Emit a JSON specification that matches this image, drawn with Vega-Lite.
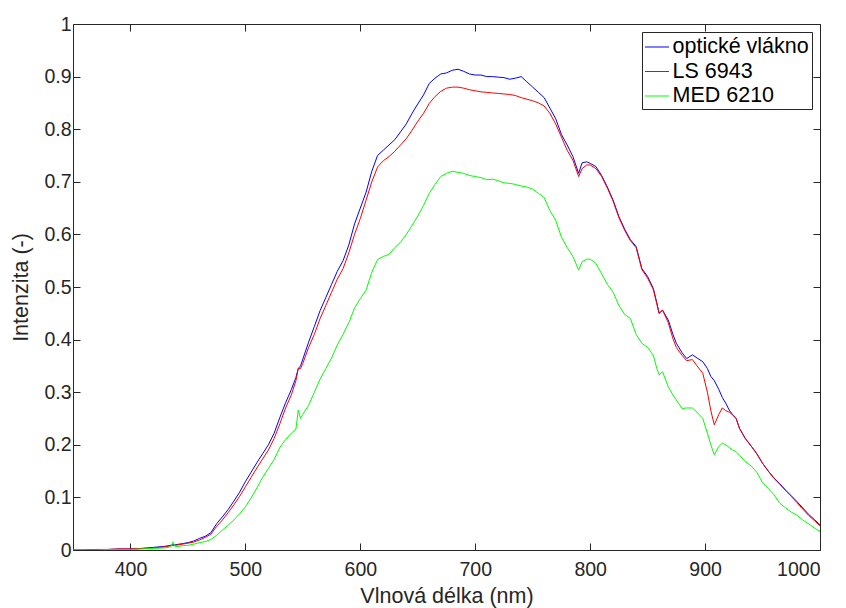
{
  "$schema": "https://vega.github.io/schema/vega-lite/v6.json",
  "width": 747,
  "height": 526,
  "autosize": "none",
  "padding": {"left": 73, "top": 24, "right": 26, "bottom": 58},
  "background": "white",
  "config": {
    "view": {"stroke": null},
    "font": "Liberation Sans",
    "axis": {
      "domainColor": "#262626",
      "tickColor": "#262626",
      "labelColor": "#262626",
      "titleColor": "#262626",
      "labelFont": "Liberation Sans",
      "titleFont": "Liberation Sans",
      "labelFontSize": 19.5,
      "titleFontSize": 21.5,
      "titleFontWeight": "normal",
      "grid": false,
      "tickSize": -7,
      "domainWidth": 1,
      "tickWidth": 1
    }
  },
  "data": {
    "values": [
      {"nm": 350, "optické vlákno": 0, "LS 6943": 0, "MED 6210": 0},
      {"nm": 360, "optické vlákno": 0, "LS 6943": 0, "MED 6210": 0},
      {"nm": 370, "optické vlákno": 0.001, "LS 6943": 0.001, "MED 6210": 0},
      {"nm": 380, "optické vlákno": 0.001, "LS 6943": 0.001, "MED 6210": 0.001},
      {"nm": 390, "optické vlákno": 0.002, "LS 6943": 0.002, "MED 6210": 0.001},
      {"nm": 400, "optické vlákno": 0.002, "LS 6943": 0.002, "MED 6210": 0.001},
      {"nm": 410, "optické vlákno": 0.003, "LS 6943": 0.003, "MED 6210": 0.002},
      {"nm": 420, "optické vlákno": 0.005, "LS 6943": 0.004, "MED 6210": 0.003},
      {"nm": 430, "optické vlákno": 0.007, "LS 6943": 0.006, "MED 6210": 0.004},
      {"nm": 435, "optické vlákno": 0.009, "LS 6943": 0.008, "MED 6210": 0.006},
      {"nm": 437, "optické vlákno": 0.01, "LS 6943": 0.009, "MED 6210": 0.015},
      {"nm": 439, "optické vlákno": 0.01, "LS 6943": 0.009, "MED 6210": 0.006},
      {"nm": 445, "optické vlákno": 0.012, "LS 6943": 0.011, "MED 6210": 0.008},
      {"nm": 450, "optické vlákno": 0.014, "LS 6943": 0.013, "MED 6210": 0.009},
      {"nm": 455, "optické vlákno": 0.017, "LS 6943": 0.015, "MED 6210": 0.011},
      {"nm": 460, "optické vlákno": 0.022, "LS 6943": 0.019, "MED 6210": 0.014},
      {"nm": 465, "optické vlákno": 0.026, "LS 6943": 0.024, "MED 6210": 0.016},
      {"nm": 470, "optické vlákno": 0.033, "LS 6943": 0.03, "MED 6210": 0.02},
      {"nm": 475, "optické vlákno": 0.05, "LS 6943": 0.045, "MED 6210": 0.028},
      {"nm": 480, "optické vlákno": 0.063, "LS 6943": 0.057, "MED 6210": 0.038},
      {"nm": 485, "optické vlákno": 0.077, "LS 6943": 0.071, "MED 6210": 0.047},
      {"nm": 490, "optické vlákno": 0.093, "LS 6943": 0.086, "MED 6210": 0.057},
      {"nm": 495, "optické vlákno": 0.11, "LS 6943": 0.102, "MED 6210": 0.069},
      {"nm": 500, "optické vlákno": 0.13, "LS 6943": 0.12, "MED 6210": 0.082},
      {"nm": 505, "optické vlákno": 0.148, "LS 6943": 0.138, "MED 6210": 0.099},
      {"nm": 510, "optické vlákno": 0.166, "LS 6943": 0.156, "MED 6210": 0.118},
      {"nm": 515, "optické vlákno": 0.183, "LS 6943": 0.173, "MED 6210": 0.138},
      {"nm": 520, "optické vlákno": 0.2, "LS 6943": 0.19, "MED 6210": 0.155},
      {"nm": 525, "optické vlákno": 0.222, "LS 6943": 0.212, "MED 6210": 0.172},
      {"nm": 530, "optické vlákno": 0.252, "LS 6943": 0.24, "MED 6210": 0.195},
      {"nm": 535, "optické vlákno": 0.28, "LS 6943": 0.27, "MED 6210": 0.21},
      {"nm": 540, "optické vlákno": 0.305, "LS 6943": 0.295, "MED 6210": 0.222},
      {"nm": 544, "optické vlákno": 0.328, "LS 6943": 0.322, "MED 6210": 0.23},
      {"nm": 546, "optické vlákno": 0.345, "LS 6943": 0.345, "MED 6210": 0.266},
      {"nm": 548, "optické vlákno": 0.35, "LS 6943": 0.345, "MED 6210": 0.25},
      {"nm": 550, "optické vlákno": 0.363, "LS 6943": 0.355, "MED 6210": 0.258},
      {"nm": 555, "optické vlákno": 0.395, "LS 6943": 0.385, "MED 6210": 0.275},
      {"nm": 560, "optické vlákno": 0.425, "LS 6943": 0.41, "MED 6210": 0.3},
      {"nm": 565, "optické vlákno": 0.455, "LS 6943": 0.44, "MED 6210": 0.325},
      {"nm": 570, "optické vlákno": 0.48, "LS 6943": 0.465, "MED 6210": 0.345},
      {"nm": 575, "optické vlákno": 0.505, "LS 6943": 0.49, "MED 6210": 0.365},
      {"nm": 580, "optické vlákno": 0.53, "LS 6943": 0.515, "MED 6210": 0.39},
      {"nm": 585, "optické vlákno": 0.55, "LS 6943": 0.535, "MED 6210": 0.41},
      {"nm": 590, "optické vlákno": 0.58, "LS 6943": 0.565, "MED 6210": 0.432},
      {"nm": 595, "optické vlákno": 0.62, "LS 6943": 0.6, "MED 6210": 0.46},
      {"nm": 600, "optické vlákno": 0.65, "LS 6943": 0.63, "MED 6210": 0.478},
      {"nm": 605, "optické vlákno": 0.68, "LS 6943": 0.665, "MED 6210": 0.494},
      {"nm": 610, "optické vlákno": 0.72, "LS 6943": 0.7, "MED 6210": 0.528},
      {"nm": 615, "optické vlákno": 0.75, "LS 6943": 0.728, "MED 6210": 0.552},
      {"nm": 620, "optické vlákno": 0.76, "LS 6943": 0.74, "MED 6210": 0.558},
      {"nm": 625, "optické vlákno": 0.77, "LS 6943": 0.748, "MED 6210": 0.562},
      {"nm": 630, "optické vlákno": 0.78, "LS 6943": 0.758, "MED 6210": 0.575},
      {"nm": 635, "optické vlákno": 0.795, "LS 6943": 0.77, "MED 6210": 0.585},
      {"nm": 640, "optické vlákno": 0.81, "LS 6943": 0.782, "MED 6210": 0.6},
      {"nm": 645, "optické vlákno": 0.83, "LS 6943": 0.798, "MED 6210": 0.617},
      {"nm": 650, "optické vlákno": 0.848, "LS 6943": 0.815, "MED 6210": 0.635},
      {"nm": 655, "optické vlákno": 0.865, "LS 6943": 0.83, "MED 6210": 0.655},
      {"nm": 660, "optické vlákno": 0.887, "LS 6943": 0.849, "MED 6210": 0.678},
      {"nm": 665, "optické vlákno": 0.897, "LS 6943": 0.862, "MED 6210": 0.695},
      {"nm": 670, "optické vlákno": 0.905, "LS 6943": 0.872, "MED 6210": 0.71},
      {"nm": 675, "optické vlákno": 0.907, "LS 6943": 0.878, "MED 6210": 0.716},
      {"nm": 680, "optické vlákno": 0.912, "LS 6943": 0.88, "MED 6210": 0.72},
      {"nm": 685, "optické vlákno": 0.914, "LS 6943": 0.88, "MED 6210": 0.718},
      {"nm": 690, "optické vlákno": 0.91, "LS 6943": 0.878, "MED 6210": 0.716},
      {"nm": 695, "optické vlákno": 0.905, "LS 6943": 0.875, "MED 6210": 0.712},
      {"nm": 700, "optické vlákno": 0.903, "LS 6943": 0.873, "MED 6210": 0.71},
      {"nm": 705, "optické vlákno": 0.903, "LS 6943": 0.871, "MED 6210": 0.708},
      {"nm": 710, "optické vlákno": 0.9, "LS 6943": 0.87, "MED 6210": 0.704},
      {"nm": 715, "optické vlákno": 0.9, "LS 6943": 0.869, "MED 6210": 0.705},
      {"nm": 720, "optické vlákno": 0.899, "LS 6943": 0.868, "MED 6210": 0.702},
      {"nm": 725, "optické vlákno": 0.898, "LS 6943": 0.867, "MED 6210": 0.698},
      {"nm": 730, "optické vlákno": 0.895, "LS 6943": 0.866, "MED 6210": 0.697},
      {"nm": 735, "optické vlákno": 0.897, "LS 6943": 0.864, "MED 6210": 0.695},
      {"nm": 740, "optické vlákno": 0.9, "LS 6943": 0.86, "MED 6210": 0.692},
      {"nm": 745, "optické vlákno": 0.89, "LS 6943": 0.857, "MED 6210": 0.69},
      {"nm": 750, "optické vlákno": 0.88, "LS 6943": 0.854, "MED 6210": 0.686},
      {"nm": 755, "optické vlákno": 0.87, "LS 6943": 0.85, "MED 6210": 0.678},
      {"nm": 760, "optické vlákno": 0.86, "LS 6943": 0.844, "MED 6210": 0.67},
      {"nm": 765, "optické vlákno": 0.84, "LS 6943": 0.83, "MED 6210": 0.645},
      {"nm": 770, "optické vlákno": 0.82, "LS 6943": 0.81, "MED 6210": 0.627},
      {"nm": 775, "optické vlákno": 0.79, "LS 6943": 0.785, "MED 6210": 0.595},
      {"nm": 780, "optické vlákno": 0.77, "LS 6943": 0.76, "MED 6210": 0.575},
      {"nm": 785, "optické vlákno": 0.748, "LS 6943": 0.741, "MED 6210": 0.558},
      {"nm": 790, "optické vlákno": 0.716, "LS 6943": 0.71, "MED 6210": 0.532},
      {"nm": 793, "optické vlákno": 0.736, "LS 6943": 0.725, "MED 6210": 0.548},
      {"nm": 797, "optické vlákno": 0.738, "LS 6943": 0.732, "MED 6210": 0.553},
      {"nm": 800, "optické vlákno": 0.735, "LS 6943": 0.732, "MED 6210": 0.553},
      {"nm": 805, "optické vlákno": 0.729, "LS 6943": 0.725, "MED 6210": 0.545},
      {"nm": 810, "optické vlákno": 0.712, "LS 6943": 0.71, "MED 6210": 0.525},
      {"nm": 815, "optické vlákno": 0.69, "LS 6943": 0.688, "MED 6210": 0.505},
      {"nm": 820, "optické vlákno": 0.665, "LS 6943": 0.663, "MED 6210": 0.49},
      {"nm": 825, "optické vlákno": 0.634, "LS 6943": 0.632, "MED 6210": 0.465},
      {"nm": 830, "optické vlákno": 0.61, "LS 6943": 0.608, "MED 6210": 0.448},
      {"nm": 835, "optické vlákno": 0.59, "LS 6943": 0.588, "MED 6210": 0.44},
      {"nm": 840, "optické vlákno": 0.577, "LS 6943": 0.575, "MED 6210": 0.41},
      {"nm": 845, "optické vlákno": 0.535, "LS 6943": 0.533, "MED 6210": 0.393},
      {"nm": 850, "optické vlákno": 0.52, "LS 6943": 0.517, "MED 6210": 0.385},
      {"nm": 855, "optické vlákno": 0.497, "LS 6943": 0.495, "MED 6210": 0.37},
      {"nm": 858, "optické vlákno": 0.47, "LS 6943": 0.468, "MED 6210": 0.345},
      {"nm": 860, "optické vlákno": 0.45, "LS 6943": 0.45, "MED 6210": 0.333},
      {"nm": 863, "optické vlákno": 0.456, "LS 6943": 0.456, "MED 6210": 0.339},
      {"nm": 868, "optické vlákno": 0.437, "LS 6943": 0.432, "MED 6210": 0.31},
      {"nm": 872, "optické vlákno": 0.41, "LS 6943": 0.402, "MED 6210": 0.295},
      {"nm": 875, "optické vlákno": 0.393, "LS 6943": 0.385, "MED 6210": 0.285},
      {"nm": 880, "optické vlákno": 0.375, "LS 6943": 0.37, "MED 6210": 0.269},
      {"nm": 884, "optické vlákno": 0.364, "LS 6943": 0.36, "MED 6210": 0.27},
      {"nm": 889, "optické vlákno": 0.371, "LS 6943": 0.362, "MED 6210": 0.27},
      {"nm": 893, "optické vlákno": 0.365, "LS 6943": 0.35, "MED 6210": 0.262},
      {"nm": 898, "optické vlákno": 0.358, "LS 6943": 0.336, "MED 6210": 0.25},
      {"nm": 902, "optické vlákno": 0.345, "LS 6943": 0.3, "MED 6210": 0.222},
      {"nm": 905, "optické vlákno": 0.33, "LS 6943": 0.265, "MED 6210": 0.2},
      {"nm": 908, "optické vlákno": 0.322, "LS 6943": 0.238, "MED 6210": 0.181},
      {"nm": 912, "optické vlákno": 0.305, "LS 6943": 0.258, "MED 6210": 0.197},
      {"nm": 915, "optické vlákno": 0.29, "LS 6943": 0.27, "MED 6210": 0.203},
      {"nm": 918, "optické vlákno": 0.279, "LS 6943": 0.265, "MED 6210": 0.2},
      {"nm": 921, "optické vlákno": 0.266, "LS 6943": 0.262, "MED 6210": 0.195},
      {"nm": 924, "optické vlákno": 0.257, "LS 6943": 0.257, "MED 6210": 0.19},
      {"nm": 927, "optické vlákno": 0.25, "LS 6943": 0.25, "MED 6210": 0.187},
      {"nm": 930, "optické vlákno": 0.231, "LS 6943": 0.231, "MED 6210": 0.18},
      {"nm": 935, "optické vlákno": 0.212, "LS 6943": 0.212, "MED 6210": 0.168},
      {"nm": 940, "optické vlákno": 0.198, "LS 6943": 0.198, "MED 6210": 0.16},
      {"nm": 945, "optické vlákno": 0.183, "LS 6943": 0.183, "MED 6210": 0.148},
      {"nm": 950, "optické vlákno": 0.165, "LS 6943": 0.165, "MED 6210": 0.128},
      {"nm": 955, "optické vlákno": 0.15, "LS 6943": 0.15, "MED 6210": 0.117},
      {"nm": 960, "optické vlákno": 0.137, "LS 6943": 0.136, "MED 6210": 0.105},
      {"nm": 965, "optické vlákno": 0.126, "LS 6943": 0.125, "MED 6210": 0.089},
      {"nm": 970, "optické vlákno": 0.114, "LS 6943": 0.113, "MED 6210": 0.08},
      {"nm": 975, "optické vlákno": 0.103, "LS 6943": 0.102, "MED 6210": 0.072},
      {"nm": 980, "optické vlákno": 0.092, "LS 6943": 0.09, "MED 6210": 0.066},
      {"nm": 985, "optické vlákno": 0.08, "LS 6943": 0.078, "MED 6210": 0.057},
      {"nm": 990, "optické vlákno": 0.068, "LS 6943": 0.066, "MED 6210": 0.05},
      {"nm": 995, "optické vlákno": 0.058, "LS 6943": 0.056, "MED 6210": 0.042},
      {"nm": 1000, "optické vlákno": 0.048, "LS 6943": 0.046, "MED 6210": 0.035}
    ]
  },
  "transform": [
    {"fold": ["optické vlákno", "LS 6943", "MED 6210"], "as": ["serie", "hodnota"]}
  ],
  "layer": [
    {
      "mark": {"type": "line", "strokeWidth": 1, "clip": true},
      "encoding": {
        "x": {
          "field": "nm", "type": "quantitative",
          "scale": {"domain": [350, 1000], "nice": false, "zero": false},
          "axis": {"orient": "bottom", "title": "Vlnová délka (nm)", "format": "d", "values": [400, 500, 600, 700, 800, 900, 1000], "labelPadding": 17, "titlePadding": 7}
        },
        "y": {
          "field": "hodnota", "type": "quantitative",
          "scale": {"domain": [0, 1], "nice": false},
          "axis": {"orient": "left", "title": "Intenzita (-)", "values": [0, 0.1, 0.2, 0.3, 0.4, 0.5, 0.6, 0.7, 0.8, 0.9, 1], "format": "~g", "labelPadding": 9, "titlePadding": 11}
        },
        "color": {
          "field": "serie", "type": "nominal",
          "scale": {"domain": ["optické vlákno", "LS 6943", "MED 6210"], "range": ["#0000ff", "#ff0000", "#00ff00"]},
          "legend": {
            "title": null,
            "orient": "none",
            "legendX": 569,
            "legendY": 8,
            "symbolType": "stroke",
            "symbolSize": 576,
            "symbolStrokeWidth": 1,
            "labelFontSize": 21.5,
            "labelFont": "Liberation Sans",
            "labelColor": "#000000",
            "labelOffset": 3,
            "rowPadding": 1.5,
            "padding": 2.5,
            "strokeColor": "#262626",
            "fillColor": "white",
            "labelLimit": 300
          }
        }
      }
    },
    {
      "mark": {"type": "line", "opacity": 0},
      "encoding": {
        "x": {
          "field": "nm", "type": "quantitative",
          "axis": {"orient": "top", "title": null, "labels": false, "values": [400, 500, 600, 700, 800, 900, 1000]}
        },
        "y": {
          "field": "hodnota", "type": "quantitative",
          "axis": {"orient": "right", "title": null, "labels": false, "values": [0, 0.1, 0.2, 0.3, 0.4, 0.5, 0.6, 0.7, 0.8, 0.9, 1]}
        }
      }
    }
  ],
  "resolve": {"axis": {"x": "independent", "y": "independent"}}
}
